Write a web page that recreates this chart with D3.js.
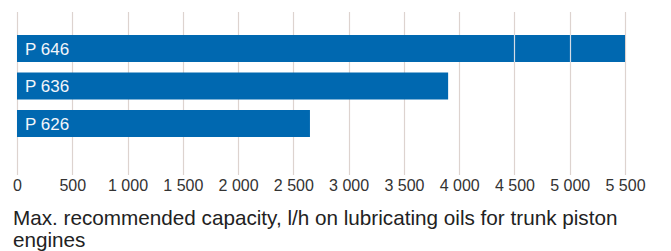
<!DOCTYPE html>
<html><head><meta charset="utf-8">
<script src="https://cdn.jsdelivr.net/npm/d3@7"></script>
<style>
html,body{margin:0;padding:0;background:#fff;}
svg{display:block;}
text{font-family:"Liberation Sans",Arial,Helvetica,sans-serif;}
</style></head>
<body>
<svg id="chart" width="671" height="251"></svg>
<script>
const categories = ["P 646", "P 636", "P 626"];
const values = [5500, 3900, 2650];
const tickValues = [0, 500, 1000, 1500, 2000, 2500, 3000, 3500, 4000, 4500, 5000, 5500];
const tickLabels = ["0", "500", "1 000", "1 500", "2 000", "2 500", "3 000", "3 500", "4 000", "4 500", "5 000", "5 500"];
const gridOverTopBar = [4500, 5000];
const titleLines = ["Max. recommended capacity, l/h on lubricating oils for trunk piston", "engines"];

const svg = d3.select("#chart");
const x = d3.scaleLinear().domain([0, 5500]).range([17, 625]);
const y = d3.scaleBand().domain(categories).range([35, 137]).paddingInner(0.28).paddingOuter(0);

// gridlines
svg.append("g").selectAll("line").data(tickValues).join("line")
  .attr("x1", d => Math.round(x(d)) + 0.5).attr("x2", d => Math.round(x(d)) + 0.5)
  .attr("y1", 12).attr("y2", 175)
  .attr("stroke", "#ddd3cf").attr("stroke-width", 1.2);

// bars
svg.append("g").selectAll("rect").data(categories).join("rect")
  .attr("x", x(0)).attr("y", d => y(d))
  .attr("width", (d, i) => x(values[i]) - x(0))
  .attr("height", y.bandwidth())
  .attr("fill", "#0068b0");

// light gridlines visible across the top bar
svg.append("g").selectAll("line").data(gridOverTopBar).join("line")
  .attr("x1", d => Math.round(x(d)) + 0.5).attr("x2", d => Math.round(x(d)) + 0.5)
  .attr("y1", y(categories[0])).attr("y2", y(categories[0]) + y.bandwidth())
  .attr("stroke", "#d4dce6").attr("stroke-width", 1.2);

// bar labels
svg.append("g").selectAll("text").data(categories).join("text")
  .attr("x", x(0) + 8).attr("y", d => y(d) + y.bandwidth() / 2 + 6)
  .attr("fill", "#f2f6fa").attr("font-size", 17)
  .text(d => d);

// axis tick labels
const axis = d3.axisBottom(x).tickValues(tickValues).tickFormat((d, i) => tickLabels[i]).tickSize(0).tickPadding(0);
const ag = svg.append("g").attr("transform", "translate(0,178)").call(axis);
ag.select(".domain").remove();
ag.selectAll("text").attr("font-size", 16).attr("fill", "#333").attr("font-family", '"Liberation Sans",Arial,sans-serif').attr("dy", "0.82em");

// title
svg.append("g").selectAll("text").data(titleLines).join("text")
  .attr("x", 13).attr("y", (d, i) => 225 + i * 21.5)
  .attr("font-size", 20.7).attr("fill", "#222")
  .text(d => d);
</script>
</body></html>
